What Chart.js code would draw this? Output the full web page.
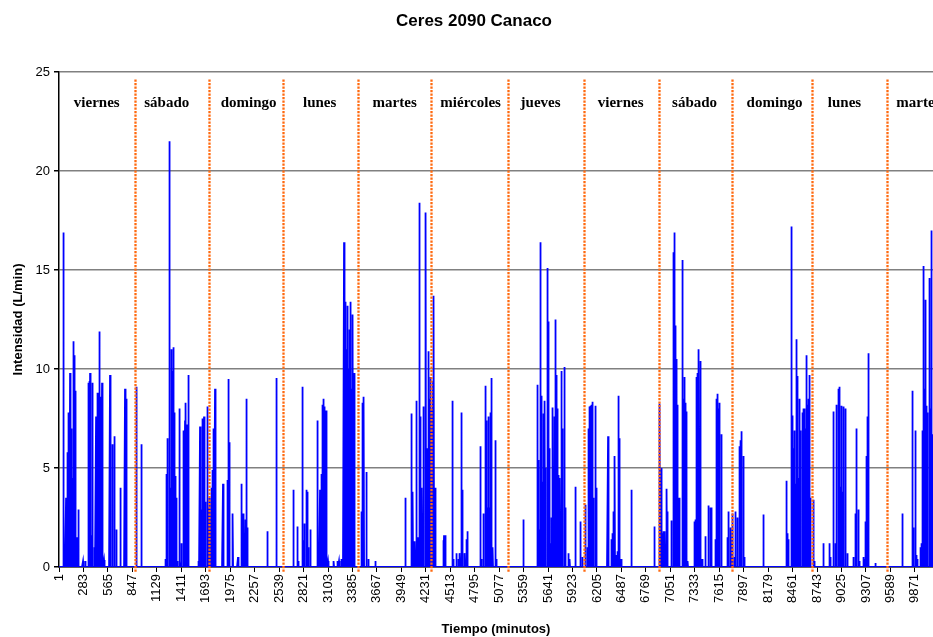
<!DOCTYPE html>
<html lang="es">
<head>
<meta charset="utf-8">
<title>Ceres 2090 Canaco</title>
<script src="https://cdn.jsdelivr.net/npm/chart.js@4.4.1/dist/chart.umd.min.js"></script>
<style>
  html, body { margin: 0; padding: 0; background: #fff; }
  #chart { display: block; }
</style>
</head>
<body>
<canvas id="chart" width="933" height="637"></canvas>
<script>
// Serie de caudal: [minuto, L/min], agrupados por dia
const viernes1 = [[51,16.9],[82,3.5],[90,3.4],[101,5.8],[112,7.8],[120,7.7],[128,9.8],[140,7.0],[147,6.9],[155,4.5],[167,11.4],[178,10.7],[186,8.9],[209,1.5],[228,2.9],[278,0.3],[305,0.3],[336,9.3],[344,9.2],[351,9.4],[359,9.8],[366,9.6],[374,1.6],[386,9.3],[413,1.0],[428,7.6],[437,7.5],[447,8.8],[456,8.8],[466,11.9],[482,8.6],[497,9.3],[520,0.35],[589,9.7],[620,6.2],[639,6.6],[659,1.9],[709,4.0],[762,9.0],[782,8.5]];
const sabado1 = [[897,9.1],[951,6.2],[1231,0.4],[1239,4.7],[1250,6.5],[1277,21.5],[1289,4.0],[1300,11.0],[1308,9.9],[1319,11.1],[1327,7.8],[1335,7.6],[1346,4.6],[1358,3.5],[1365,0.3],[1388,8.0],[1396,0.3],[1412,1.2],[1435,6.9],[1442,5.0],[1454,7.4],[1465,8.3],[1477,7.2],[1485,5.0],[1496,9.7],[1611,0.3],[1627,7.1],[1642,2.9],[1658,7.5],[1673,7.6],[1681,1.5],[1692,3.3],[1711,8.1],[1719,3.0],[1727,2.8]];
const domingo1 = [[1742,3.5],[1757,4.0],[1769,4.9],[1780,6.6],[1788,7.0],[1800,9.0],[1892,4.2],[1942,4.4],[1953,9.5],[1969,6.3],[2007,2.7],[2065,0.5],[2103,4.2],[2123,2.7],[2134,2.55],[2149,2.4],[2165,8.5],[2172,2.0],[2403,1.8],[2507,9.55]];
const lunes1 = [[2703,3.9],[2749,2.05],[2760,0.3],[2807,9.1],[2826,1.35],[2834,2.2],[2857,3.9],[2865,3.8],[2880,1.0],[2899,1.9],[2980,7.4],[2988,1.0],[3011,3.9],[3026,4.7],[3038,8.2],[3049,8.5],[3057,8.1],[3069,6.0],[3080,7.9],[3103,0.3],[3172,0.3],[3211,0.3],[3230,0.3],[3257,0.4],[3268,0.3],[3288,16.4],[3296,10.9],[3307,13.4],[3318,11.0],[3330,13.2],[3342,10.0],[3350,12.0],[3361,13.4],[3376,9.0],[3384,4.0],[3391,12.75],[3403,9.8],[3410,0.4]];
const martes1 = [[3487,2.8],[3503,8.3],[3518,8.6],[3549,4.8],[3568,0.4],[3653,0.3],[3999,3.5],[4068,7.75],[4083,3.8],[4106,1.3],[4125,8.4],[4141,1.5],[4156,18.4],[4171,7.6],[4187,4.0],[4206,8.1],[4233,17.9],[4248,6.0],[4264,10.9],[4272,8.5],[4287,9.6]];
const miercoles1 = [[4298,8.0],[4314,9.4],[4325,13.7],[4337,4.0],[4433,1.35],[4441,1.6],[4456,1.6],[4536,8.4],[4555,0.4],[4586,0.7],[4613,0.4],[4625,0.7],[4644,7.8],[4655,3.9],[4682,0.7],[4698,1.4],[4709,1.8],[4863,6.1],[4874,0.4],[4901,2.7],[4917,9.15],[4928,7.4],[4940,3.0],[4955,7.6],[4970,3.0],[4978,7.8],[4990,9.55],[5005,1.0],[5032,6.4],[5047,0.4]];
const jueves1 = [[5362,2.4],[5516,9.2],[5532,5.4],[5543,1.9],[5558,16.4],[5570,8.65],[5578,4.3],[5589,7.75],[5605,8.4],[5616,5.0],[5631,15.1],[5639,14.3],[5647,12.4],[5655,6.0],[5670,1.2],[5681,2.5],[5697,8.05],[5712,7.6],[5728,12.5],[5739,9.7],[5751,8.0],[5766,4.65],[5778,4.5],[5793,9.9],[5808,7.0],[5831,10.1],[5843,3.0],[5881,0.7],[5893,0.4],[5958,4.05],[6016,2.3],[6035,0.5]];
const viernes2 = [[6070,3.15],[6093,1.0],[6104,7.0],[6116,8.1],[6131,8.15],[6146,8.2],[6158,8.35],[6169,3.5],[6189,8.15],[6200,4.0],[6333,6.6],[6370,1.4],[6385,1.7],[6401,2.8],[6412,5.6],[6428,0.6],[6439,0.8],[6451,8.65],[6462,6.5],[6478,0.4],[6489,0.4],[6601,3.9],[6873,2.05]];
const sabado2 = [[6931,8.25],[6950,5.0],[6962,1.7],[6977,1.8],[6989,1.8],[7012,3.95],[7023,2.8],[7066,2.35],[7085,15.9],[7100,16.9],[7112,12.2],[7123,10.5],[7135,8.2],[7146,3.5],[7158,3.5],[7189,15.5],[7200,8.5],[7212,9.6],[7219,7.0],[7231,8.3],[7242,7.85],[7254,0.3],[7335,2.3],[7346,2.4],[7358,9.6],[7369,9.8],[7381,11.0],[7396,10.4],[7408,0.4],[7419,0.4],[7461,1.55],[7496,3.1],[7511,3.0],[7523,3.0],[7573,1.4],[7581,8.5],[7592,8.75],[7604,8.0],[7619,8.3],[7638,6.7],[7707,1.5],[7719,2.8],[7750,2.0]];
const domingo2 = [[7765,2.7],[7792,0.5],[7803,2.8],[7823,2.5],[7853,6.1],[7865,6.4],[7876,6.85],[7892,5.6],[7907,0.5],[8122,2.65],[8391,4.35],[8406,1.7],[8418,1.4],[8445,17.2],[8456,7.65],[8468,6.0],[8479,6.9],[8495,4.2],[8506,11.5],[8518,9.65],[8529,4.5],[8545,8.5],[8556,6.9],[8572,7.8],[8583,8.0],[8595,8.0],[8606,7.0],[8618,10.7],[8629,8.2],[8641,8.5],[8652,9.7],[8664,3.5]];
const lunes2 = [[8702,3.4],[8718,0.3],[8814,1.2],[8887,1.2],[8898,0.5],[8929,7.85],[8952,1.2],[8971,8.2],[8987,9.0],[8998,9.1],[9010,4.05],[9025,8.15],[9037,3.8],[9048,8.1],[9067,8.0],[9090,0.7],[9167,0.5],[9183,2.7],[9194,7.0],[9217,2.9],[9236,0.3],[9283,0.5],[9294,0.4],[9306,2.3],[9317,5.6],[9329,7.6],[9340,10.8],[9417,0.2]];
const martes2 = [[9725,2.7],[9840,8.9],[9855,2.0],[9874,6.9],[9890,0.6],[9905,0.4],[9932,1.0],[9944,1.2],[9955,6.9],[9967,15.2],[9978,9.0],[9990,13.5],[10005,8.15],[10020,7.8],[10036,14.6],[10047,8.0],[10059,17.0],[10070,6.7]];

const totalMinutes = 10080;

// Etiquetas del eje X (cada 282 minutos, como en Excel)
const tickMinutes = [1,283,565,847,1129,1411,1693,1975,2257,2539,2821,3103,3385,3667,3949,4231,4513,4795,5077,5359,5641,5923,6205,6487,6769,7051,7333,7615,7897,8179,8461,8743,9025,9307,9589,9871];

// Cambios de dia (lineas punteadas) y nombres de los dias
const dayBoundaries = [875,1734,2585,3452,4292,5178,6055,6918,7760,8680,9550];
const dayNames = ['viernes','sábado','domingo','lunes','martes','miércoles','jueves','viernes','sábado','domingo','lunes','martes'];
const dayLabelMinutes = [436,1243,2188,3007,3872,4748,5555,6478,7331,8253,9060,9912];

// Serie completa minuto a minuto: cero salvo donde hay consumo
const flows = [].concat(viernes1, sabado1, domingo1, lunes1, martes1, miercoles1, jueves1, viernes2, sabado2, domingo2, lunes2, martes2);
const intensity = new Array(totalMinutes).fill(0);
flows.forEach(([m, v]) => { intensity[m - 1] = v; });
const points = intensity.map((v, i) => ({ x: i + 1, y: v }));

const sansFont = "'Liberation Sans', Arial, sans-serif";
const serifFont = "'Liberation Serif', 'Times New Roman', serif";

const decorPlugin = {
  id: 'decor',
  afterDatasetsDraw(chart) {
    const { ctx, chartArea, scales: { x, y } } = chart;
    ctx.save();
    // lineas punteadas de cambio de dia
    ctx.strokeStyle = '#FF6A10';
    ctx.lineWidth = 2.3;
    ctx.setLineDash([2.2, 1.3]);
    dayBoundaries.forEach(m => {
      const px = Math.round(x.getPixelForValue(m)) + 0.5;
      ctx.beginPath();
      ctx.moveTo(px, y.getPixelForValue(24.62));
      ctx.lineTo(px, y.getPixelForValue(-0.3));
      ctx.stroke();
    });
    ctx.setLineDash([]);

    // nombres de los dias
    ctx.fillStyle = '#000';
    ctx.font = 'bold 15px ' + serifFont;
    ctx.textAlign = 'center';
    ctx.textBaseline = 'middle';
    dayNames.forEach((name, i) => {
      ctx.fillText(name, x.getPixelForValue(dayLabelMinutes[i]), y.getPixelForValue(23.45));
    });

    // titulos
    ctx.font = 'bold 17px ' + sansFont;
    ctx.fillText('Ceres 2090 Canaco', 474, 21);
    ctx.font = 'bold 13px ' + sansFont;
    ctx.fillText('Tiempo (minutos)', (chartArea.left + chartArea.right) / 2, 629);
    ctx.translate(18, (chartArea.top + chartArea.bottom) / 2);
    ctx.rotate(-Math.PI / 2);
    ctx.fillText('Intensidad (L/min)', 0, 0);
    ctx.restore();
  }
};

new Chart(document.getElementById('chart'), {
  type: 'line',
  data: {
    datasets: [{
      data: points,
      borderColor: '#0000FF',
      borderWidth: 1.8,
      pointRadius: 0,
      tension: 0,
      fill: false
    }]
  },
  options: {
    responsive: false,
    devicePixelRatio: 1,
    animation: false,
    parsing: false,
    normalized: true,
    layout: { padding: { top: 72, left: 0, right: 0, bottom: 0 } },
    plugins: {
      legend: { display: false },
      tooltip: { enabled: false },
      title: { display: false }
    },
    scales: {
      x: {
        type: 'linear',
        min: 0.5,
        max: totalMinutes + 0.5,
        afterBuildTicks: scale => { scale.ticks = tickMinutes.map(v => ({ value: v })); },
        afterFit: scale => { scale.height = 70; },
        ticks: {
          autoSkip: false,
          minRotation: 90,
          maxRotation: 90,
          padding: 2,
          color: '#000',
          font: { family: sansFont, size: 13 },
          callback: v => String(v)
        },
        grid: { drawOnChartArea: false, drawTicks: true, tickLength: 5, color: '#000' },
        border: { color: '#000', width: 1.5 }
      },
      y: {
        min: 0,
        max: 25,
        afterFit: scale => { scale.width = 59; },
        ticks: {
          stepSize: 5,
          padding: 4,
          color: '#000',
          font: { family: sansFont, size: 13 }
        },
        grid: { color: '#808080', lineWidth: 1.5, tickLength: 5, tickColor: '#000' },
        border: { color: '#000', width: 1.5 }
      }
    }
  },
  plugins: [decorPlugin]
});
</script>
</body>
</html>
